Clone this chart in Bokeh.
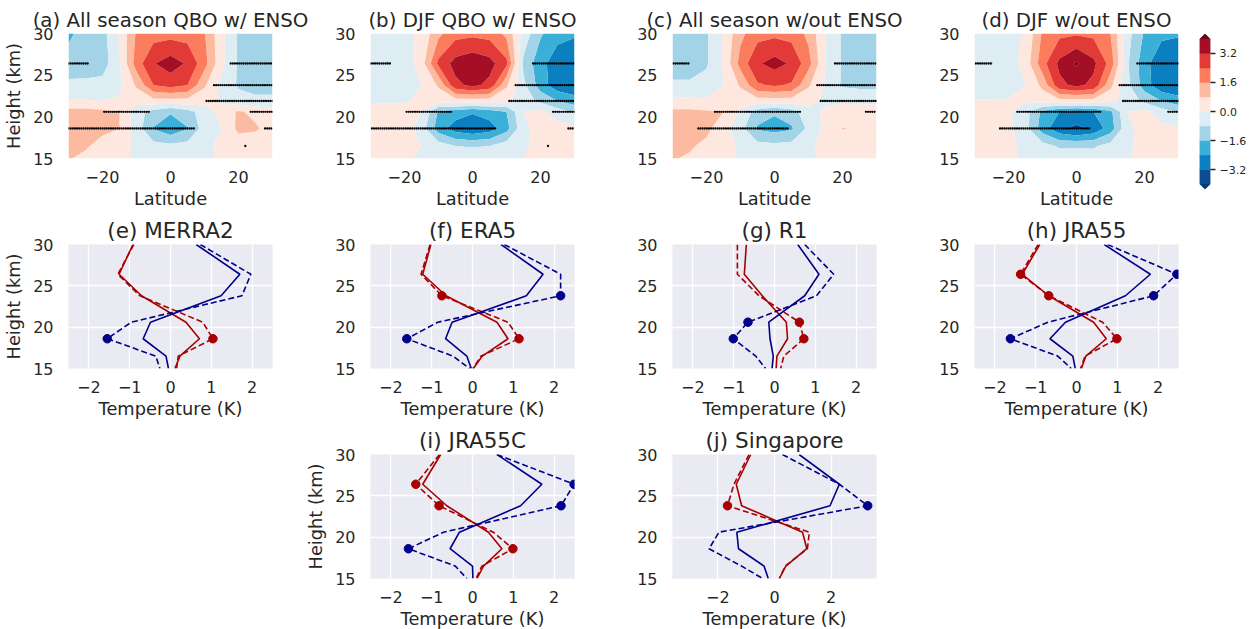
import numpy as np
from bokeh.plotting import figure
from bokeh.layouts import row, column, Spacer
from bokeh.models import FixedTicker, Range1d
from bokeh.embed import file_html
from bokeh.resources import INLINE

FONT = "DejaVu Sans"
INK = "#262626"

# ---------------- contour panels (rows: 30 km at top down to 15 km) ----------------
lats = [-30, -25, -20, -15, -10, -5, 0, 5, 10, 15, 20, 25, 30]
grid_heights = [30, 26.4, 23.8, 21.9, 20.6, 18.6, 16.5, 15]

a_all_season_enso = [
    [-1.75, -1.3, -1.1, 0.1, 1.7, 2.05, 2.1, 2.05, 1.65, 0.2, -0.9, -1.2, -1.2],
    [-1.3, -1.25, -1.2, -0.1, 2.0, 3.15, 3.6, 3.1, 1.9, 0.2, -0.9, -1.2, -1.2],
    [-0.6, -0.6, -0.5, -0.1, 0.9, 2.4, 2.7, 2.4, 0.9, -0.2, -0.9, -1.1, -1.1],
    [0.05, 0.05, 0.0, 0.05, 0.3, 0.5, 0.5, 0.5, 0.3, -0.1, -0.5, -0.6, -0.6],
    [1.1, 1.1, 1.0, 0.8, -0.5, -1.1, -1.5, -1.1, -0.4, 0.3, 0.9, 0.6, 0.4],
    [1.4, 1.2, 1.0, 0.8, -0.35, -1.65, -2.2, -1.65, -0.4, 0.0, 1.0, 0.9, 0.5],
    [1.2, 0.9, 0.5, 0.2, -0.1, -0.5, -0.6, -0.5, -0.1, 0.1, 0.3, 0.3, 0.3],
    [0.85, 0.6, 0.4, 0.2, -0.1, -0.3, -0.3, -0.3, -0.1, 0.1, 0.2, 0.2, 0.2],
]
b_djf_enso = [
    [-0.3, -0.3, -0.2, 0.2, 1.4, 2.1, 2.2, 2.1, 1.4, -0.3, -1.5, -2.1, -2.3],
    [-0.6, -0.85, -0.4, 0.4, 2.6, 3.5, 3.8, 3.5, 2.6, -1.0, -2.1, -2.9, -3.0],
    [-0.3, -0.3, -0.2, 0.0, 0.9, 3.0, 3.4, 3.0, 0.9, -0.6, -2.0, -2.9, -3.1],
    [-0.1, -0.1, -0.05, 0.1, 0.3, 0.4, 0.4, 0.4, 0.2, -0.4, -1.0, -1.6, -2.0],
    [0.3, 0.3, 0.3, 0.0, -1.7, -2.0, -2.3, -2.0, -1.6, 0.0, 0.2, -0.4, -0.9],
    [0.4, 0.4, 0.4, -0.4, -2.0, -2.8, -3.1, -2.8, -1.9, -0.2, 0.3, 0.3, 0.2],
    [0.3, 0.3, 0.2, 0.0, -0.4, -0.8, -0.85, -0.8, -0.4, -0.1, 0.2, 0.2, 0.15],
    [0.2, 0.2, 0.1, -0.1, -0.3, -0.4, -0.4, -0.4, -0.3, 0.0, 0.2, 0.1, 0.05],
]
c_all_season_no_enso = [
    [-1.1, -1.1, -0.9, 0.1, 1.4, 2.1, 2.2, 2.1, 1.4, 0.0, -0.9, -1.1, -1.1],
    [-1.1, -1.1, -0.9, 0.1, 1.9, 3.1, 3.5, 3.1, 1.9, 0.0, -0.9, -1.1, -1.1],
    [-0.7, -0.7, -0.5, 0.0, 0.9, 2.3, 2.5, 2.3, 0.9, -0.1, -0.9, -1.0, -1.0],
    [0.2, 0.2, 0.1, 0.1, 0.3, 0.4, 0.4, 0.4, 0.2, -0.1, -0.1, -0.15, -0.15],
    [1.0, 1.0, 0.9, 0.8, -0.1, -1.2, -1.5, -1.2, -0.2, 0.1, 0.3, 0.3, 0.3],
    [1.3, 1.2, 1.0, 0.3, -0.5, -1.7, -1.9, -1.7, -0.6, 0.2, 0.83, 0.7, 0.4],
    [1.1, 0.9, 0.6, 0.3, -0.1, -0.5, -0.6, -0.5, -0.1, 0.2, 0.3, 0.3, 0.3],
    [0.85, 0.7, 0.5, 0.2, -0.1, -0.3, -0.3, -0.3, -0.1, 0.1, 0.2, 0.2, 0.2],
]
d_djf_no_enso = [
    [-0.3, -0.3, -0.3, 0.1, 1.7, 2.2, 2.3, 2.2, 1.6, -0.5, -1.7, -2.2, -2.3],
    [-0.5, -0.85, -0.4, 0.3, 2.1, 3.4, 4.1, 3.4, 2.1, -0.7, -2.1, -3.0, -3.1],
    [-0.4, -0.4, -0.3, 0.0, 1.0, 3.0, 3.4, 3.0, 1.0, -0.6, -2.0, -3.0, -3.2],
    [0.05, 0.05, 0.05, 0.1, 0.3, 0.5, 0.5, 0.5, 0.2, -0.3, -1.0, -1.6, -2.0],
    [0.4, 0.4, 0.1, -0.5, -1.8, -2.4, -2.6, -2.4, -1.8, 0.0, 0.2, -0.4, -0.9],
    [0.3, 0.3, 0.2, -0.5, -2.0, -3.0, -3.4, -3.0, -2.0, -0.2, 0.3, 0.2, 0.1],
    [0.2, 0.2, 0.1, -0.1, -0.5, -0.9, -0.9, -0.9, -0.5, -0.1, 0.2, 0.2, 0.1],
    [0.15, 0.15, 0.1, -0.1, -0.3, -0.4, -0.4, -0.4, -0.3, -0.05, 0.15, 0.1, 0.05],
]

# significance stippling: (height, first latitude, last latitude)
a_sig = [(26.4, -30, -23.9), (26.4, 17.7, 30), (23.8, 12.8, 30), (21.9, 10.6, 30),
         (20.6, -19.5, -5.8), (20.6, 23.6, 30), (18.6, -30, 7.3), (18.6, 27.8, 30), (16.5, 22, 22)]
b_sig = [(26.4, -29.9, -23.8), (26.4, 17.8, 30), (23.8, 12.7, 30), (21.9, 10.8, 30),
         (20.6, -19.4, -5.9), (20.6, 23.7, 30), (18.6, -29.6, 7.2), (18.6, 28.2, 30), (16.5, 22.2, 22.2)]
c_sig = [(26.4, -29.7, -24.9), (26.4, 17.8, 30), (23.8, 12.6, 30), (21.9, 13.6, 30),
         (20.6, -17.5, 7.5), (20.6, 26.9, 30), (18.6, -22.4, 4.3)]
d_sig = [(26.4, -29.6, -24.9), (26.4, 17.9, 30), (23.8, 12.7, 30), (21.9, 13.7, 30),
         (20.6, -17.4, 7.5), (20.6, 27.0, 30), (18.6, -22.5, 4.2)]

levels = [-4.0, -3.2, -2.4, -1.6, -0.8, 0.0, 0.8, 1.6, 2.4, 3.2, 4.0]
band_colors = ["#0b4d8f", "#0b7fc0", "#3aafd8", "#a3d3e6", "#deecf3",
               "#fde7df", "#fcbba1", "#fc7d5e", "#e23a37", "#a50f25"]
under_color = "#053a70"
over_color = "#6d0020"
cb_ticks = [-3.2, -1.6, 0.0, 1.6, 3.2]

# ---------------- profile panels ----------------
prof_h = [30, 26.4, 23.8, 20.6, 18.6, 16.5, 15]

e_red = [-0.92, -1.26, -0.71, 0.38, 0.71, 0.23, 0.11]
e_red_dash = [-0.90, -1.29, -0.75, 0.79, 1.04, 0.19, 0.15]
e_blue = [0.63, 1.70, 1.24, -0.49, -0.67, -0.11, -0.05]
e_blue_dash = [0.73, 1.97, 1.75, -0.96, -1.55, -0.36, -0.26]
e_red_sig = [18.6]
e_blue_sig = [18.6]

f_red = [-1.02, -1.22, -0.65, 0.60, 0.87, 0.24, 0.02]
f_red_dash = [-1.04, -1.26, -0.75, 0.87, 1.14, 0.21, 0.01]
f_blue = [0.70, 1.73, 1.32, -0.50, -0.66, -0.14, -0.03]
f_blue_dash = [0.78, 2.16, 2.16, -0.85, -1.61, -0.48, -0.07]
f_red_sig = [23.8, 18.6]
f_blue_sig = [23.8, 18.6]

g_red = [-0.69, -0.74, -0.30, 0.29, 0.32, 0.06, 0.04]
g_red_dash = [-0.91, -0.91, -0.38, 0.61, 0.72, 0.23, 0.15]
g_blue = [0.57, 1.09, 0.74, -0.14, -0.11, -0.03, -0.06]
g_blue_dash = [0.74, 1.45, 1.03, -0.65, -1.01, -0.46, -0.22]
g_red_sig = [20.6, 18.6]
g_blue_sig = [20.6, 18.6]

h_red = [-0.90, -1.33, -0.68, 0.42, 0.73, 0.23, 0.12]
h_red_dash = [-0.94, -1.37, -0.68, 0.64, 0.99, 0.21, 0.10]
h_blue = [0.68, 1.81, 1.20, -0.27, -0.65, -0.09, -0.03]
h_blue_dash = [0.76, 2.46, 1.89, -0.70, -1.62, -0.46, -0.13]
h_red_sig = [26.4, 23.8, 18.6]
h_blue_sig = [26.4, 23.8, 18.6]

i_red = [-0.78, -1.22, -0.63, 0.39, 0.72, 0.27, 0.11]
i_red_dash = [-0.81, -1.39, -0.82, 0.51, 0.99, 0.23, 0.09]
i_blue = [0.60, 1.70, 1.18, -0.32, -0.55, 0.0, 0.01]
i_blue_dash = [0.60, 2.49, 2.17, -0.71, -1.57, -0.42, -0.14]
i_red_sig = [26.4, 23.8, 18.6]
i_blue_sig = [26.4, 23.8, 18.6]

j_red = [-0.84, -1.35, -1.16, 0.99, 1.14, 0.40, 0.17]
j_red_dash = [-0.90, -1.43, -1.66, 1.23, 1.16, 0.38, 0.17]
j_blue = [0.87, 2.29, 1.96, -1.33, -1.27, -0.37, -0.22]
j_blue_dash = [0.28, 2.29, 3.29, -1.96, -2.31, -1.16, -0.42]
j_red_sig = [23.8]
j_blue_sig = [23.8]

RED = "#a80000"
BLUE = "#00008b"
FRAME_W = 204


def minus(v):
    s = f"{v:g}" if not isinstance(v, float) or v != 0 else "0.0"
    return s.replace("-", "\u2212")


def base_fig(title, title_size, xr, xticks, frame_h, bottom, left=58, right=40,
             ylabel=None, xlabel=None):
    p = figure(frame_width=FRAME_W, frame_height=frame_h,
               x_range=Range1d(*xr), y_range=Range1d(15, 30),
               min_border_left=left, min_border_right=right, min_border_top=33,
               min_border_bottom=bottom, output_backend="svg", toolbar_location=None,
               title=title)
    p.outline_line_color = None
    p.title.text_font = FONT
    p.title.text_font_size = title_size
    p.title.text_font_style = "normal"
    p.title.text_color = INK
    p.title.align = "center"
    p.title.standoff = 3
    for ax in (p.xaxis[0], p.yaxis[0]):
        ax.axis_line_color = None
        ax.major_tick_line_color = None
        ax.minor_tick_line_color = None
        ax.major_label_text_font = FONT
        ax.major_label_text_font_size = "16px"
        ax.major_label_text_color = INK
        ax.axis_label_text_font = FONT
        ax.axis_label_text_font_size = "17.8px"
        ax.axis_label_text_font_style = "normal"
        ax.axis_label_text_color = INK
    p.xaxis.major_label_standoff = 6
    p.yaxis.major_label_standoff = 9
    p.xaxis.axis_label_standoff = 2
    p.yaxis.axis_label_standoff = 6
    p.xaxis.ticker = FixedTicker(ticks=xticks)
    p.yaxis.ticker = FixedTicker(ticks=[15, 20, 25, 30])
    p.xaxis.major_label_overrides = {t: minus(t) for t in xticks}
    if xlabel:
        p.xaxis.axis_label = xlabel
    if ylabel:
        p.yaxis.axis_label = ylabel
    return p


def contour_panel(title, grid, sig, ylabel=None, left=58, right=40):
    p = base_fig(title, "19.8px", (-30, 30), [-20, 0, 20], 125, 52, left=left, right=right,
                 ylabel=ylabel, xlabel="Latitude")
    p.grid.grid_line_color = None
    p.background_fill_color = "white"
    z = np.array(grid[::-1], dtype=float)
    hts = grid_heights[::-1]
    p.contour(lats, hts, z, levels=[-100.0] + levels + [100.0],
              fill_color=[under_color] + band_colors + [over_color], line_color=None)
    xs, ys = [], []
    for h, l0, l1 in sig:
        pts = np.arange(l0, l1 + 1e-6, 0.625)
        xs.extend(pts.tolist())
        ys.extend([h] * len(pts))
    p.scatter(xs, ys, size=2.3, color="black", line_color=None)
    return p


def profile_panel(title, red, red_d, blue, blue_d, red_sig, blue_sig,
                  xr=(-2.5, 2.5), xticks=(-2, -1, 0, 1, 2), frame_h=124, bottom=53,
                  ylabel=None, left=58, right=40):
    p = base_fig(title, "21.5px", xr, list(xticks), frame_h, bottom, left=left, right=right,
                 ylabel=ylabel, xlabel="Temperature (K)")
    p.background_fill_color = "#eaeaf2"
    p.grid.grid_line_color = "white"
    p.grid.grid_line_width = 1.3
    p.line(red, prof_h, line_color=RED, line_width=1.6)
    p.line(red_d, prof_h, line_color=RED, line_width=1.6, line_dash="6 3")
    p.line(blue, prof_h, line_color=BLUE, line_width=1.6)
    p.line(blue_d, prof_h, line_color=BLUE, line_width=1.6, line_dash="6 3")
    rx = [red_d[prof_h.index(h)] for h in red_sig]
    bx = [blue_d[prof_h.index(h)] for h in blue_sig]
    p.scatter(rx, red_sig, size=8.5, color=RED)
    p.scatter(bx, blue_sig, size=8.5, color=BLUE)
    return p


pa = contour_panel("(a) All season QBO w/ ENSO", a_all_season_enso, a_sig,
                   ylabel="Height (km)", left=66)
pb = contour_panel("(b) DJF QBO w/ ENSO", b_djf_enso, b_sig)
pc = contour_panel("(c) All season w/out ENSO", c_all_season_no_enso, c_sig)
pd_ = contour_panel("(d) DJF w/out ENSO", d_djf_no_enso, d_sig, right=15)

# colour bar
cb = figure(frame_width=11, frame_height=156, x_range=Range1d(0, 1), y_range=Range1d(-4.3, 4.3),
            min_border_left=6, min_border_right=40, min_border_top=33, min_border_bottom=21,
            x_axis_location=None, y_axis_location="right", output_backend="svg",
            toolbar_location=None)
cb.grid.grid_line_color = None
cb.outline_line_color = None
cb.quad(left=0, right=1, bottom=levels[:-1], top=levels[1:], fill_color=band_colors,
        line_color=band_colors, line_width=0.5)
cap = 0.3
cb.patches(xs=[[0, 1, 0.5], [0, 1, 0.5]],
           ys=[[levels[-1], levels[-1], levels[-1] + cap], [levels[0], levels[0], levels[0] - cap]],
           fill_color=[over_color, under_color], line_color=None)
ax = cb.yaxis[0]
ax.ticker = FixedTicker(ticks=cb_ticks)
ax.major_label_overrides = {t: minus(t) for t in cb_ticks}
ax.axis_line_color = None
ax.minor_tick_line_color = None
ax.major_tick_line_color = INK
ax.major_tick_line_width = 1.5
ax.major_tick_in = 0
ax.major_tick_out = 5
ax.major_label_standoff = 4
ax.major_label_text_font = FONT
ax.major_label_text_font_size = "11px"
ax.major_label_text_color = INK

pe = profile_panel("(e) MERRA2", e_red, e_red_dash, e_blue, e_blue_dash, e_red_sig, e_blue_sig,
                   ylabel="Height (km)", left=66)
pf = profile_panel("(f) ERA5", f_red, f_red_dash, f_blue, f_blue_dash, f_red_sig, f_blue_sig)
pg = profile_panel("(g) R1", g_red, g_red_dash, g_blue, g_blue_dash, g_red_sig, g_blue_sig)
ph = profile_panel("(h) JRA55", h_red, h_red_dash, h_blue, h_blue_dash, h_red_sig, h_blue_sig,
                   right=15)
pi = profile_panel("(i) JRA55C", i_red, i_red_dash, i_blue, i_blue_dash, i_red_sig, i_blue_sig,
                   bottom=52, ylabel="Height (km)", left=66)
pj = profile_panel("(j) Singapore", j_red, j_red_dash, j_blue, j_blue_dash, j_red_sig, j_blue_sig,
                   xr=(-3.6, 3.6), xticks=(-2, 0, 2), bottom=52)

layout = column(
    row(pa, pb, pc, pd_, cb),
    row(pe, pf, pg, ph),
    row(Spacer(width=302, height=209), pi, pj),
)

open("out.html", "w").write(file_html(layout, INLINE))
